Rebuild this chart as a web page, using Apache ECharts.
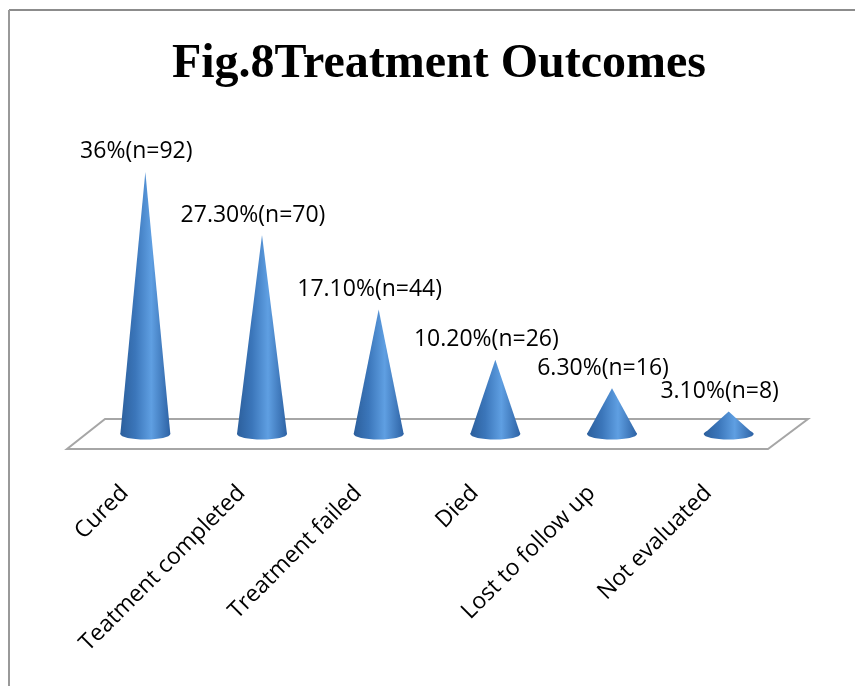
<!DOCTYPE html>
<html>
<head>
<meta charset="utf-8">
<title>Fig.8Treatment Outcomes</title>
<style>
  html, body { margin: 0; padding: 0; background: #fff; }
  #chart { width: 855px; height: 686px; }
</style>
<script src="https://cdn.jsdelivr.net/npm/echarts@6/dist/echarts.min.js"></script>
</head>
<body>
<div id="chart"></div>
<script>
const categories = ['Cured', 'Teatment completed', 'Treatment failed', 'Died', 'Lost to follow up', 'Not evaluated']
const percents = [36, 27.3, 17.1, 10.2, 6.3, 3.1]
const valueLabels = ['36%(n=92)', '27.30%(n=70)', '17.10%(n=44)', '10.20%(n=26)', '6.30%(n=16)', '3.10%(n=8)']

const labelFont = '"Open Sans", "Noto Sans", sans-serif'
const coneFill = new echarts.graphic.LinearGradient(0, 0, 1, 0, [
  { offset: 0, color: '#2c5f9c' },
  { offset: 0.3, color: '#3b76ba' },
  { offset: 0.62, color: '#5f9fe2' },
  { offset: 1, color: '#2d62a4' }
])

const renderCone = (params, api) => {
  const i = api.value(0)
  const base = api.coord([i, 0])
  const tip = api.coord([i, api.value(1)])
  return {
    type: 'group',
    children: [
      {
        type: 'ellipse',
        shape: { cx: base[0], cy: base[1], rx: 25, ry: 5.5 },
        style: { fill: coneFill }
      },
      {
        type: 'polygon',
        shape: { points: [[tip[0], tip[1]], [base[0] + 25, base[1]], [base[0] - 25, base[1]]] },
        style: { fill: coneFill }
      },
      {
        type: 'text',
        style: {
          text: valueLabels[i],
          x: tip[0] - 9,
          y: tip[1] - 20,
          align: 'center',
          verticalAlign: 'middle',
          font: '23px ' + labelFont,
          fill: '#000'
        }
      }
    ]
  }
}

// the floor under the cones, hung off the plot area
const renderFloor = (params) => {
  const c = params.coordSys
  const bottom = c.y + c.height
  const left = c.x
  const right = c.x + c.width
  return {
    type: 'polygon',
    shape: {
      points: [
        [left - 20, bottom + 15],
        [right - 19, bottom + 15],
        [right + 21, bottom - 15],
        [left + 18, bottom - 15]
      ]
    },
    style: { fill: '#fff', stroke: '#a6a6a6', lineWidth: 2 }
  }
}

const chart = echarts.init(document.getElementById('chart'), null, { renderer: 'canvas' })
chart.setOption({
  animation: false,
  backgroundColor: '#fff',
  title: {
    text: 'Fig.8Treatment Outcomes',
    left: 434,
    top: 36,
    textAlign: 'center',
    textStyle: { fontFamily: '"Liberation Serif", serif', fontWeight: 'bold', fontSize: 48, color: '#000' }
  },
  graphic: [
    { type: 'line', shape: { x1: 9, y1: 10, x2: 855, y2: 10 }, style: { stroke: '#8c8c8c', lineWidth: 2 } },
    { type: 'line', shape: { x1: 9, y1: 10, x2: 9, y2: 686 }, style: { stroke: '#999', lineWidth: 2 } }
  ],
  grid: { left: 87, right: 68, top: 70, height: 364 },
  xAxis: {
    type: 'category',
    data: categories,
    axisLine: { show: false },
    axisTick: { show: false },
    axisLabel: { rotate: 45, interval: 0, margin: 35, padding: [0, 29, 0, 0], fontFamily: labelFont, fontSize: 23, color: '#000' }
  },
  yAxis: { type: 'value', min: 0, max: 50, show: false, splitLine: { show: false } },
  series: [
    { type: 'custom', data: [0], renderItem: renderFloor, silent: true, z: 1 },
    { type: 'custom', data: percents.map((p, i) => [i, p]), renderItem: renderCone, z: 2 }
  ]
})
</script>
</body>
</html>
